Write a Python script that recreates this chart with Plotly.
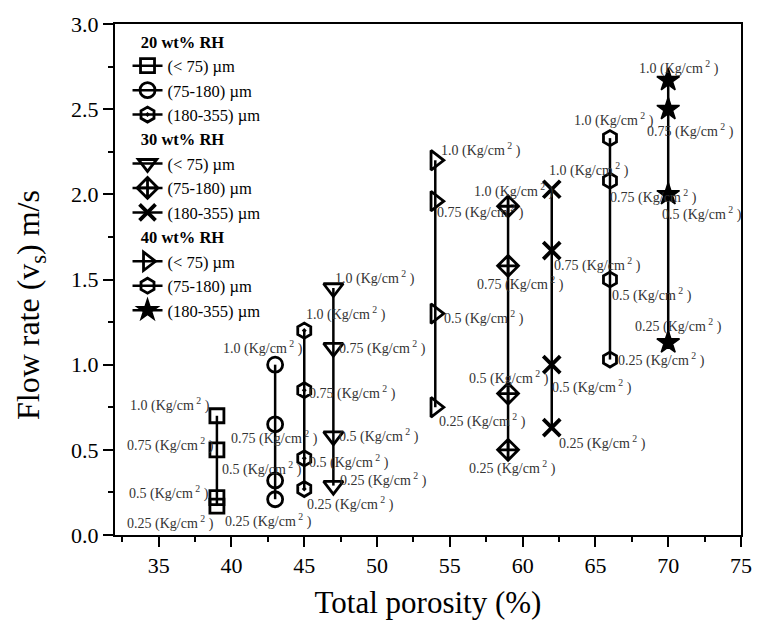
import plotly.graph_objects as go

# ---------------- data ----------------
pressure_labels = ["1.0", "0.75", "0.5", "0.25"]

group_titles = ["20 wt% RH", "30 wt% RH", "40 wt% RH"]
size_labels = ["(< 75) µm", "(75-180) µm", "(180-355) µm"]

porosity_20 = [39, 43, 45]
flow_20_lt75 = [0.70, 0.50, 0.22, 0.17]
flow_20_75_180 = [1.00, 0.65, 0.32, 0.21]
flow_20_180_355 = [1.20, 0.85, 0.45, 0.27]

porosity_30 = [47, 59, 62]
flow_30_lt75 = [1.45, 1.10, 0.58, 0.29]
flow_30_75_180 = [1.93, 1.58, 0.83, 0.50]
flow_30_180_355 = [2.03, 1.67, 1.00, 0.63]

porosity_40 = [54, 66, 70]
flow_40_lt75 = [2.20, 1.96, 1.30, 0.75]
flow_40_75_180 = [2.33, 2.08, 1.50, 1.03]
flow_40_180_355 = [2.67, 2.50, 2.00, 1.13]

x_ticks = [35, 40, 45, 50, 55, 60, 65, 70, 75]
y_ticks = [0.0, 0.5, 1.0, 1.5, 2.0, 2.5, 3.0]

x_title = "Total porosity (%)"
y_title = "Flow rate (v<sub>s</sub>) m/s"

# ---------------- styling ----------------
FONT = "Liberation Serif, Times New Roman, serif"

series = [
    (0, porosity_20[0], flow_20_lt75, "square-open", 14, 2.8),
    (0, porosity_20[1], flow_20_75_180, "circle-open", 15, 2.8),
    (0, porosity_20[2], flow_20_180_355, "hexagon-open-dot", 15, 2.8),
    (1, porosity_30[0], flow_30_lt75, "triangle-down-open", 17, 2.8),
    (1, porosity_30[1], flow_30_75_180, "diamond-cross-open", 16, 2.8),
    (1, porosity_30[2], flow_30_180_355, "x-thin-open", 17, 3.8),
    (2, porosity_40[0], flow_40_lt75, "triangle-right-open", 17, 2.8),
    (2, porosity_40[1], flow_40_75_180, "hexagon-open", 15, 2.8),
    (2, porosity_40[2], flow_40_180_355, "star", 17, 1.5),
]

# label offsets in pixels (dx right, dy down) for each point of each series
label_offsets = [
    [(-47, -11), (-46, -5), (-48, -5), (-46, 16)],
    [(-12, -17), (-1, 13), (-13, -12), (-7, 21)],
    [(42, -17), (48, 2), (45, 3), (46, 14)],
    [(42, -11), (49, 0), (46, -1), (50, -6)],
    [(6, -16), (12, 18), (1, -16), (4, 18)],
    [(37, -20), (46, 14), (40, 22), (51, 15)],
    [(46, -11), (45, 10), (49, 4), (47, 13)],
    [(4, -19), (44, 16), (42, 15), (52, 0)],
    [(11, -13), (22, 21), (34, 19), (10, -17)],
]

fig = go.Figure()
annotations = []
for k, (g, xv, yv, sym, msize, mlw) in enumerate(series):
    fig.add_trace(go.Scatter(
        x=[xv] * len(yv), y=yv,
        mode="lines+markers",
        name=size_labels[k % 3],
        legendgroup=group_titles[g],
        legendgrouptitle=dict(text="&nbsp;&nbsp;<b>" + group_titles[g] + "</b>",
                              font=dict(family=FONT, size=16.5, color="black")),
        line=dict(color="black", width=2.5),
        marker=dict(symbol=sym, size=msize, color="black",
                    line=dict(color="black", width=mlw)),
    ))
    for j, p in enumerate(pressure_labels):
        dx, dy = label_offsets[k][j]
        annotations.append(dict(
            x=xv, y=yv[j], xref="x", yref="y",
            text=p + " (Kg/cm<sup> 2</sup> )",
            showarrow=False, xshift=dx, yshift=-dy,
            xanchor="center", yanchor="middle",
            font=dict(family=FONT, size=14, color="#333333"),
        ))

# y-axis title as rotated annotation (positioned like the reference)
annotations.append(dict(
    x=0, y=0.45, xref="paper", yref="paper",
    text=y_title, textangle=-90, showarrow=False,
    xanchor="center", yanchor="middle", xshift=-85,
    font=dict(family=FONT, size=32, color="black"),
))

fig.update_layout(
    width=764, height=633,
    margin=dict(l=115, r=18, t=24, b=98),
    paper_bgcolor="white", plot_bgcolor="white",
    font=dict(family=FONT, color="black"),
    showlegend=True,
    legend=dict(x=0.02, y=1.0, xanchor="left", yanchor="top",
                bgcolor="rgba(0,0,0,0)", borderwidth=0,
                font=dict(family=FONT, size=16.5, color="black"),
                tracegroupgap=0),
    annotations=annotations,
)

fig.update_xaxes(
    range=[32, 75], tickvals=x_ticks,
    ticks="outside", ticklen=10, tickwidth=2, tickcolor="black",
    minor=dict(dtick=2.5, ticks="outside", ticklen=5, tickwidth=1.5, tickcolor="black", showgrid=False),
    showline=True, linewidth=2, linecolor="black", mirror=True,
    showgrid=False, zeroline=False,
    tickfont=dict(family=FONT, size=22, color="black"),
    title=dict(text=x_title, font=dict(family=FONT, size=31, color="black"), standoff=14),
)
fig.update_yaxes(
    range=[0, 3], tickvals=y_ticks, tickformat=".1f",
    ticks="outside", ticklen=10, tickwidth=2, tickcolor="black",
    minor=dict(dtick=0.25, ticks="outside", ticklen=5, tickwidth=1.5, tickcolor="black", showgrid=False),
    showline=True, linewidth=2, linecolor="black", mirror=True,
    showgrid=False, zeroline=False,
    tickfont=dict(family=FONT, size=22, color="black"),
)

fig.write_html("out.html")
